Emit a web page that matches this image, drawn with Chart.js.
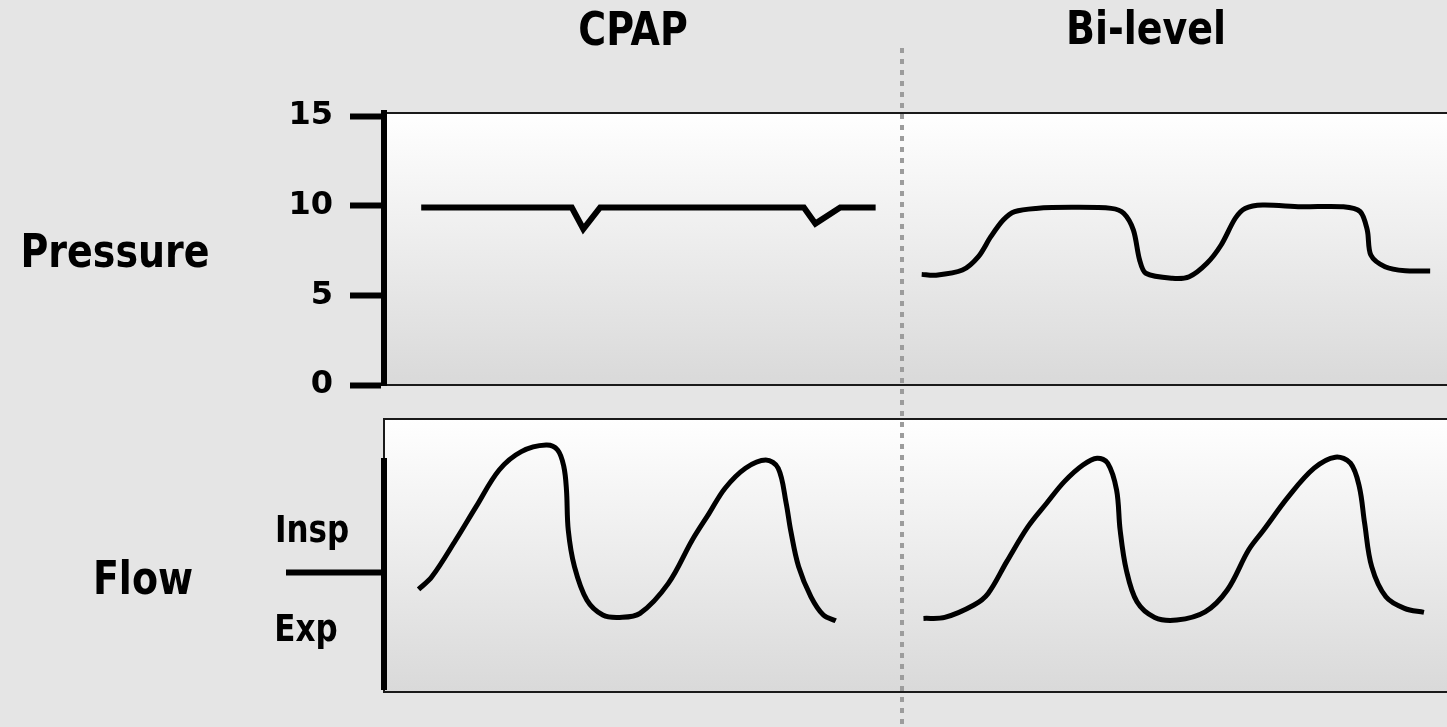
<!DOCTYPE html>
<html>
<head>
<meta charset="utf-8">
<script src="https://cdn.jsdelivr.net/npm/chart.js"></script>
<style>
  html, body { margin: 0; padding: 0; background: #e5e5e5; overflow: hidden; }
  body { width: 1447px; height: 727px; position: relative; font-family: "DejaVu Sans", sans-serif; font-weight: bold; }
  canvas { position: absolute; left: 0; }
  #pressureChart { top: 0; }
  #flowChart { top: 400px; }
  .lbl { position: absolute; line-height: 0; white-space: nowrap; transform: translateX(-50%) scaleY(1.22); color: #000; }
  .big { font-size: 38px; }
  .small { font-size: 31px; }
  #divider {
    position: absolute; left: 900px; top: 48px; width: 4px; height: 679px;
    background: repeating-linear-gradient(to bottom, #9c9c9c 0 5px, transparent 5px 11px);
  }
</style>
</head>
<body>
<canvas id="pressureChart" width="1447" height="400"></canvas>
<canvas id="flowChart" width="1447" height="327"></canvas>
<div id="divider"></div>
<div class="lbl big" style="left:633px; top:29px;">CPAP</div>
<div class="lbl big" style="left:1146px; top:28px;">Bi-level</div>
<div class="lbl big" style="left:115px; top:251px;">Pressure</div>
<div class="lbl big" style="left:143px; top:578px;">Flow</div>
<div class="lbl small" style="left:312px; top:529px;">Insp</div>
<div class="lbl small" style="left:306px; top:628px;">Exp</div>
<script>
// time axis in seconds, panel spans 0..12
const pressureTicks = [0, 5, 10, 15];
const flowTicks = [0];
const flowAxisExtent = [-59, 57];

const cpapPressureTime = [0.42, 2.12, 2.25, 2.44, 4.74, 4.87, 5.15, 5.55];
const cpapPressure     = [9.9, 9.9, 8.7, 9.9, 9.9, 9.0, 9.9, 9.9];

const bilevelPressureTime = [6.07, 6.22, 6.53, 6.71, 6.85, 6.99, 7.12, 7.36, 7.76, 8.21, 8.35, 8.46, 8.53, 8.60, 8.90,
  9.09, 9.29, 9.45, 9.61, 9.72, 9.92, 10.35, 10.83, 11.02, 11.10, 11.14, 11.30, 11.53, 11.81];
const bilevelPressure = [6.17, 6.12, 6.41, 7.16, 8.27, 9.20, 9.67, 9.85, 9.91, 9.85, 9.58, 8.64, 6.97, 6.23, 5.95,
  6.04, 6.79, 7.81, 9.30, 9.85, 10.04, 9.94, 9.94, 9.67, 8.64, 7.25, 6.60, 6.37, 6.36];

const cpapFlowTime = [0.39, 0.54, 0.81, 1.04, 1.30, 1.55, 1.83, 1.96, 2.03, 2.06, 2.08, 2.15, 2.29, 2.47, 2.66,
  2.89, 3.21, 3.48, 3.67, 3.85, 4.08, 4.31, 4.45, 4.54, 4.59, 4.68, 4.82, 4.96, 5.10];
const cpapFlow = [-8.7, -2.4, 16, 32.7, 51, 60.2, 63.5, 61, 52.7, 41, 21, 2.7, -14, -21.5, -22.7,
  -20.7, -5.7, 16, 29.3, 41.9, 51.9, 56, 51.9, 34.4, 21, 2.7, -12.4, -21.5, -24.4];

const bilevelFlowTime = [6.09, 6.33, 6.66, 6.82, 7.03, 7.27, 7.48, 7.68, 7.89, 8.05, 8.17, 8.27, 8.31, 8.38, 8.50,
  8.70, 8.95, 9.27, 9.52, 9.76, 9.93, 10.21, 10.50, 10.74, 10.91, 11.01, 11.07, 11.15, 11.31, 11.52, 11.74];
const bilevelFlow = [-23.2, -22.7, -16.5, -10.7, 5.2, 22.7, 34.4, 45.2, 53.5, 56.9, 54.4, 41, 21, 1, -14.9,
  -22.7, -24, -19.9, -9, 11, 21, 37.7, 51.9, 57.4, 54.4, 42.7, 24.4, 2.7, -12.4, -18.2, -20.2];

function pts(xs, ys) {
  return xs.map((x, i) => ({ x: x, y: ys[i] }));
}

const panelPlugin = {
  id: 'panel',
  beforeDraw(chart) {
    const { ctx, chartArea: a } = chart;
    const g = ctx.createLinearGradient(0, a.top, 0, a.bottom);
    g.addColorStop(0, '#ffffff');
    g.addColorStop(1, '#d9d9d9');
    ctx.save();
    ctx.fillStyle = g;
    ctx.fillRect(a.left, a.top, a.right - a.left + 10, a.bottom - a.top);
    ctx.strokeStyle = '#1a1a1a';
    ctx.lineWidth = 2;
    ctx.beginPath();
    ctx.moveTo(a.right + 10, a.top);
    ctx.lineTo(a.left, a.top);
    ctx.lineTo(a.left, a.bottom);
    ctx.lineTo(a.right + 10, a.bottom);
    ctx.stroke();
    ctx.restore();
  }
};

const flowAxisPlugin = {
  id: 'flowAxis',
  afterDraw(chart) {
    const { ctx, chartArea: a } = chart;
    const y = chart.scales.y;
    ctx.save();
    ctx.strokeStyle = '#000';
    ctx.lineWidth = 6;
    ctx.beginPath();
    ctx.moveTo(a.left, y.getPixelForValue(flowAxisExtent[1]));
    ctx.lineTo(a.left, y.getPixelForValue(flowAxisExtent[0]));
    ctx.stroke();
    ctx.restore();
  }
};

function fitAxis(s) {
  s.width = 384;
  s.paddingTop = 0;
  s.paddingBottom = 0;
}

const lineStyle = { borderColor: '#000', pointRadius: 0, fill: false };

new Chart(document.getElementById('pressureChart'), {
  type: 'line',
  data: {
    datasets: [
      Object.assign({ label: 'CPAP', data: pts(cpapPressureTime, cpapPressure), borderWidth: 6, tension: 0 }, lineStyle),
      Object.assign({ label: 'Bi-level', data: pts(bilevelPressureTime, bilevelPressure), borderWidth: 5, tension: 0.3 }, lineStyle)
    ]
  },
  options: {
    responsive: false,
    animation: false,
    layout: { padding: { top: 113, bottom: 15, left: 0, right: 0 } },
    plugins: { legend: { display: false }, tooltip: { enabled: false } },
    scales: {
      x: { type: 'linear', min: 0, max: 12, display: false },
      y: {
        min: 0, max: 15.17,
        afterBuildTicks: s => { s.ticks = pressureTicks.map(v => ({ value: v })); },
        afterFit: fitAxis,
        ticks: { color: '#000', padding: 17, font: { family: 'DejaVu Sans', size: 32, weight: 'bold' } },
        grid: { drawOnChartArea: false, tickLength: 34, tickWidth: 6, tickColor: '#000' },
        border: { display: true, width: 6, color: '#000' }
      }
    }
  },
  plugins: [panelPlugin]
});

new Chart(document.getElementById('flowChart'), {
  type: 'line',
  data: {
    datasets: [
      Object.assign({ label: 'CPAP', data: pts(cpapFlowTime, cpapFlow), borderWidth: 5, tension: 0.35 }, lineStyle),
      Object.assign({ label: 'Bi-level', data: pts(bilevelFlowTime, bilevelFlow), borderWidth: 5, tension: 0.35 }, lineStyle)
    ]
  },
  options: {
    responsive: false,
    animation: false,
    layout: { padding: { top: 19, bottom: 35, left: 0, right: 0 } },
    plugins: { legend: { display: false }, tooltip: { enabled: false } },
    scales: {
      x: { type: 'linear', min: 0, max: 12, display: false },
      y: {
        min: -60, max: 76.5,
        afterBuildTicks: s => { s.ticks = flowTicks.map(v => ({ value: v })); },
        afterFit: fitAxis,
        ticks: { display: false },
        grid: { drawOnChartArea: false, tickLength: 98, tickWidth: 6, tickColor: '#000' },
        border: { display: false }
      }
    }
  },
  plugins: [panelPlugin, flowAxisPlugin]
});
</script>
</body>
</html>
